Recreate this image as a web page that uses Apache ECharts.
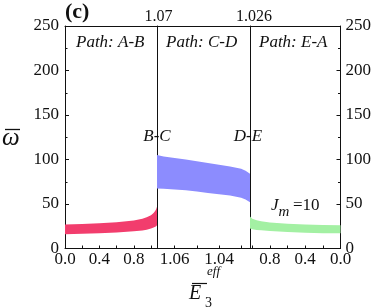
<!DOCTYPE html>
<html><head><meta charset="utf-8">
<script src="https://cdn.jsdelivr.net/npm/echarts@6/dist/echarts.min.js"></script>
<style>html,body{margin:0;padding:0;background:#fff}#c{width:374px;height:308px}</style>
</head><body><div id="c"></div>
<script>
// Path A-B (E3 increasing from 0 to 1.07)
const pathABx = [0, 0.2, 0.4, 0.6, 0.8, 0.9, 0.95, 1.0, 1.03, 1.05, 1.06, 1.07];
const pathABupper = [27, 27.5, 28.3, 29.5, 31.5, 33.5, 35, 37.5, 40, 42.5, 44, 47];
const pathABlower = [16, 16.5, 17.2, 18, 19.3, 20.3, 21, 22.5, 23.5, 24.5, 25, 26];
// Path C-D (E3 decreasing from 1.068 to 1.026)
const pathCDx = [1.068, 1.065, 1.06, 1.055, 1.05, 1.045, 1.04, 1.035, 1.03, 1.028, 1.026];
const pathCDupper = [105, 103.5, 101.8, 100, 98, 96, 94, 92, 89.5, 87.5, 84];
const pathCDlower = [67.5, 67, 66.3, 65.5, 64, 62.5, 61, 59.5, 57, 55, 52];
// Path E-A (E3 decreasing from 1.026 to 0)
const pathEAx = [1.026, 1.0, 0.95, 0.9, 0.8, 0.6, 0.4, 0.2, 0];
const pathEAupper = [36, 33.5, 31.8, 30.7, 29.3, 27.8, 27, 26.5, 26.2];
const pathEAlower = [22.5, 21.5, 20.9, 20.5, 19.6, 18.4, 17.7, 17.2, 17];

const abTickVals = [0, 0.2, 0.4, 0.6, 0.8, 1.0];
const abLabelVals = [0, 0.4, 0.8];
const cdTickVals = [1.03, 1.04, 1.05, 1.06];
const cdLabelVals = [1.04, 1.06];
const eaTickVals = [0, 0.2, 0.4, 0.6, 0.8, 1.0];
const eaLabelVals = [0, 0.4, 0.8];
const topLabels = ['1.07', '1.026'];

const FONT = '"Liberation Serif", "Times New Roman", serif';
const black = '#111';
const chart = echarts.init(document.getElementById('c'));

function lineOnly() {
  return {lineStyle: {color: black, width: 1}, show: true, onZero: false};
}
function bottomX(grid, min, max, inverse, ticks, labels, dec) {
  return {
    type: 'value', gridIndex: grid, position: 'bottom', min: min, max: max, inverse: inverse,
    axisLine: lineOnly(),
    axisTick: {show: true, inside: true, length: 3, lineStyle: {color: black}, customValues: ticks},
    axisLabel: {customValues: labels, formatter: v => v.toFixed(dec), color: black,
      fontFamily: FONT, fontSize: 17, margin: 3},
    splitLine: {show: false}
  };
}
function topX(grid, min, max, inverse, labels, pad) {
  return {
    type: 'value', gridIndex: grid, position: 'top', min: min, max: max, inverse: inverse,
    axisLine: lineOnly(), axisTick: {show: false},
    axisLabel: {show: labels.length > 0, customValues: labels.map(Number),
      formatter: v => labels.find(l => Number(l) === v) || '', color: black,
      fontFamily: FONT, fontSize: 16, margin: 1, padding: pad},
    splitLine: {show: false}
  };
}
function yAx(grid, pos, showLabels) {
  return {
    type: 'value', gridIndex: grid, position: pos, min: 0, max: 250, interval: 50,
    axisLine: lineOnly(),
    axisTick: {show: showLabels, inside: true, length: 4, lineStyle: {color: black}},
    minorTick: {show: showLabels, splitNumber: 2, length: 2.5, lineStyle: {color: black}},
    axisLabel: {show: showLabels, color: black, fontFamily: FONT, fontSize: 17,
      margin: pos === 'left' ? 6 : 5},
    splitLine: {show: false}, minorSplitLine: {show: false}
  };
}
function band(xs, lo, hi, xi, yi, color) {
  return {
    type: 'custom', xAxisIndex: xi, yAxisIndex: yi, clip: true,
    data: xs.map((x, i) => [x, lo[i], hi[i]]),
    encode: {x: 0, y: [1, 2]},
    renderItem: function (params, api) {
      if (params.dataIndex !== 0) return null;
      const pts = [];
      for (let i = 0; i < xs.length; i++) pts.push(api.coord([xs[i], hi[i]]));
      for (let i = xs.length - 1; i >= 0; i--) pts.push(api.coord([xs[i], lo[i]]));
      return {type: 'polygon', shape: {points: pts}, style: {fill: color}};
    }
  };
}
function txt(text, x, y, size, extra) {
  return {type: 'text', style: Object.assign({text: text, x: x, y: y, fill: black,
    font: 'italic ' + size + 'px ' + FONT, align: 'left', verticalAlign: 'middle'}, extra || {})};
}
function rtxt(text, x, y, font) {
  return {type: 'text', style: {text: text, x: x, y: y, fill: black, font: font + ' ' + FONT,
    align: 'left', verticalAlign: 'middle'}};
}

const option = {
  animation: false,
  grid: [
    {left: 65, top: 26, width: 92, height: 222.5},
    {left: 157, top: 26, width: 93, height: 222.5},
    {left: 250, top: 26, width: 92, height: 222.5}
  ],
  xAxis: [
    bottomX(0, 0, 1.07, false, abTickVals, abLabelVals, 1),
    bottomX(1, 1.026, 1.068, true, cdTickVals, cdLabelVals, 2),
    bottomX(2, 0, 1.026, true, eaTickVals, eaLabelVals, 1),
    topX(0, 0, 1.07, false, [topLabels[0]], [0, 0, 0, 3]),
    topX(1, 1.026, 1.068, true, [], 0),
    topX(2, 0, 1.026, true, [topLabels[1]], [0, 0, 0, 8])
  ],
  yAxis: [
    yAx(0, 'left', true),
    yAx(1, 'left', false),
    yAx(2, 'left', false),
    yAx(2, 'right', true)
  ],
  series: [
    band(pathABx, pathABlower, pathABupper, 0, 0, '#f23d6d'),
    band(pathCDx, pathCDlower, pathCDupper, 1, 1, '#8c8cfe'),
    band(pathEAx, pathEAlower, pathEAupper, 2, 2, '#a3f0a3')
  ],
  graphic: [
    rtxt('(c)', 65, 12, 'bold 22px'),
    txt('Path: A-B', 76, 43, 17),
    txt('Path: C-D', 166, 43, 17),
    txt('Path: E-A', 259, 43, 17),
    txt('B-C', 157, 137, 17, {align: 'center'}),
    txt('D-E', 248, 137, 17, {align: 'center'}),
    txt('J', 271, 206, 17),
    txt('m', 278.5, 212, 15),
    rtxt('=10', 293, 206, '17px'),
    // y-axis title: omega with bar
    txt('ω', 2, 138, 25),
    {type: 'line', shape: {x1: 5, y1: 129.5, x2: 20, y2: 129.5}, style: {stroke: black, lineWidth: 1.3}},
    // x-axis title: E bar, sub 3, sup eff
    txt('E', 189, 294, 20),
    {type: 'line', shape: {x1: 192, y1: 283.5, x2: 207, y2: 283.5}, style: {stroke: black, lineWidth: 1.2}},
    rtxt('3', 205, 303, '14px'),
    txt('eff', 207, 272, 13)
  ]
};
chart.setOption(option);
</script>
</body></html>
